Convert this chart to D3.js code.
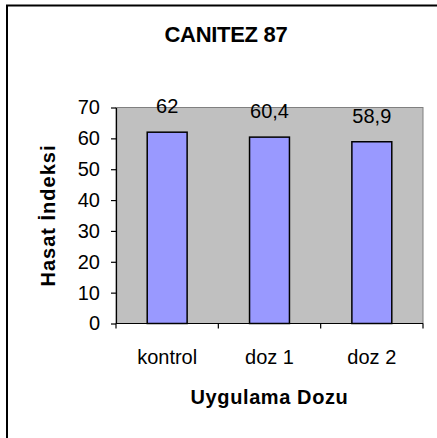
<!DOCTYPE html>
<html>
<head>
<meta charset="utf-8">
<script src="https://cdn.jsdelivr.net/npm/d3@7"></script>
<style>
  html, body { margin: 0; padding: 0; background: #fff; }
  svg { display: block; font-family: "Liberation Sans", Arial, sans-serif; }
</style>
</head>
<body>
<div id="chart"></div>
<script>
// Data
const categories = ['kontrol', 'doz 1', 'doz 2'];
const values = [62, 60.4, 58.9];
const valueLabels = ['62', '60,4', '58,9'];
const yTicks = [0, 10, 20, 30, 40, 50, 60, 70];

const width = 437;
const height = 438;
const plot = { left: 116, right: 423, top: 107.5, bottom: 323.5 };

const svg = d3.select('#chart').append('svg')
  .attr('width', width)
  .attr('height', height);

// Outer chart frame (only top and left edges fall inside the picture)
svg.append('rect')
  .attr('x', 7)
  .attr('y', 5.5)
  .attr('width', 460)
  .attr('height', 460)
  .attr('fill', '#fff')
  .attr('stroke', '#000')
  .attr('stroke-width', 2);

const y = d3.scaleLinear()
  .domain([0, 70])
  .range([plot.bottom, plot.top]);

const x = d3.scaleBand()
  .domain(categories)
  .range([plot.left, plot.right])
  .paddingInner(0.61)
  .paddingOuter(0.305);

const xCat = d3.scaleBand()
  .domain(categories)
  .range([plot.left, plot.right]);

// Plot area background
svg.append('rect')
  .attr('x', plot.left)
  .attr('y', plot.top)
  .attr('width', plot.right - plot.left)
  .attr('height', plot.bottom - plot.top)
  .attr('fill', '#c0c0c0')
  .attr('stroke', '#808080')
  .attr('stroke-width', 1);

// Title
svg.append('text')
  .attr('x', 226)
  .attr('y', 42)
  .attr('text-anchor', 'middle')
  .style('font-size', '22px')
  .style('font-weight', 'bold')
  .style('letter-spacing', '-0.3px')
  .text('CANITEZ 87');

// Bars
svg.selectAll('.bar')
  .data(values)
  .join('rect')
  .attr('class', 'bar')
  .attr('x', (d, i) => x(categories[i]))
  .attr('y', d => y(d))
  .attr('width', x.bandwidth())
  .attr('height', d => y(0) - y(d))
  .attr('fill', '#9999ff')
  .attr('stroke', '#000')
  .attr('stroke-width', 1.5);

// Value labels
svg.selectAll('.value')
  .data(values)
  .join('text')
  .attr('class', 'value')
  .attr('x', (d, i) => x(categories[i]) + x.bandwidth() / 2)
  .attr('y', d => y(d) - 19)
  .attr('text-anchor', 'middle')
  .style('font-size', '20px')
  .text((d, i) => valueLabels[i]);

// Y axis
const yAxis = svg.append('g')
  .attr('transform', `translate(${plot.left},0)`)
  .call(d3.axisLeft(y).tickValues(yTicks).tickSize(5).tickPadding(11).tickSizeOuter(0));
yAxis.select('.domain').attr('stroke', '#000').attr('stroke-width', 1.2);
yAxis.selectAll('.tick line').attr('stroke', '#000').attr('stroke-width', 1.2);
yAxis.selectAll('.tick text')
  .attr('fill', '#000')
  .style('font-family', '"Liberation Sans", Arial, sans-serif')
  .style('font-size', '20px');

// X axis (ticks sit between categories)
const xAxis = svg.append('g')
  .attr('transform', `translate(0,${plot.bottom})`);
xAxis.append('line')
  .attr('x1', plot.left).attr('x2', plot.right)
  .attr('stroke', '#000').attr('stroke-width', 1.2);
const boundaries = categories.map(c => xCat(c)).concat([xCat(categories[categories.length - 1]) + xCat.bandwidth()]);
xAxis.selectAll('.xtick')
  .data(boundaries)
  .join('line')
  .attr('class', 'xtick')
  .attr('x1', d => d).attr('x2', d => d)
  .attr('y1', 0).attr('y2', 5)
  .attr('stroke', '#000').attr('stroke-width', 1.2);
xAxis.selectAll('.xlabel')
  .data(categories)
  .join('text')
  .attr('class', 'xlabel')
  .attr('x', d => xCat(d) + xCat.bandwidth() / 2)
  .attr('y', 40)
  .attr('text-anchor', 'middle')
  .style('font-size', '20px')
  .text(d => d);

// Axis titles
svg.append('text')
  .attr('x', (plot.left + plot.right) / 2)
  .attr('y', 404)
  .attr('text-anchor', 'middle')
  .style('font-size', '20px')
  .style('font-weight', 'bold')
  .style('letter-spacing', '0.6px')
  .text('Uygulama Dozu');

svg.append('text')
  .attr('transform', `translate(55,${(plot.top + plot.bottom) / 2}) rotate(-90)`)
  .attr('text-anchor', 'middle')
  .style('font-size', '20px')
  .style('font-weight', 'bold')
  .style('letter-spacing', '1px')
  .text('Hasat İndeksi');
</script>
</body>
</html>
